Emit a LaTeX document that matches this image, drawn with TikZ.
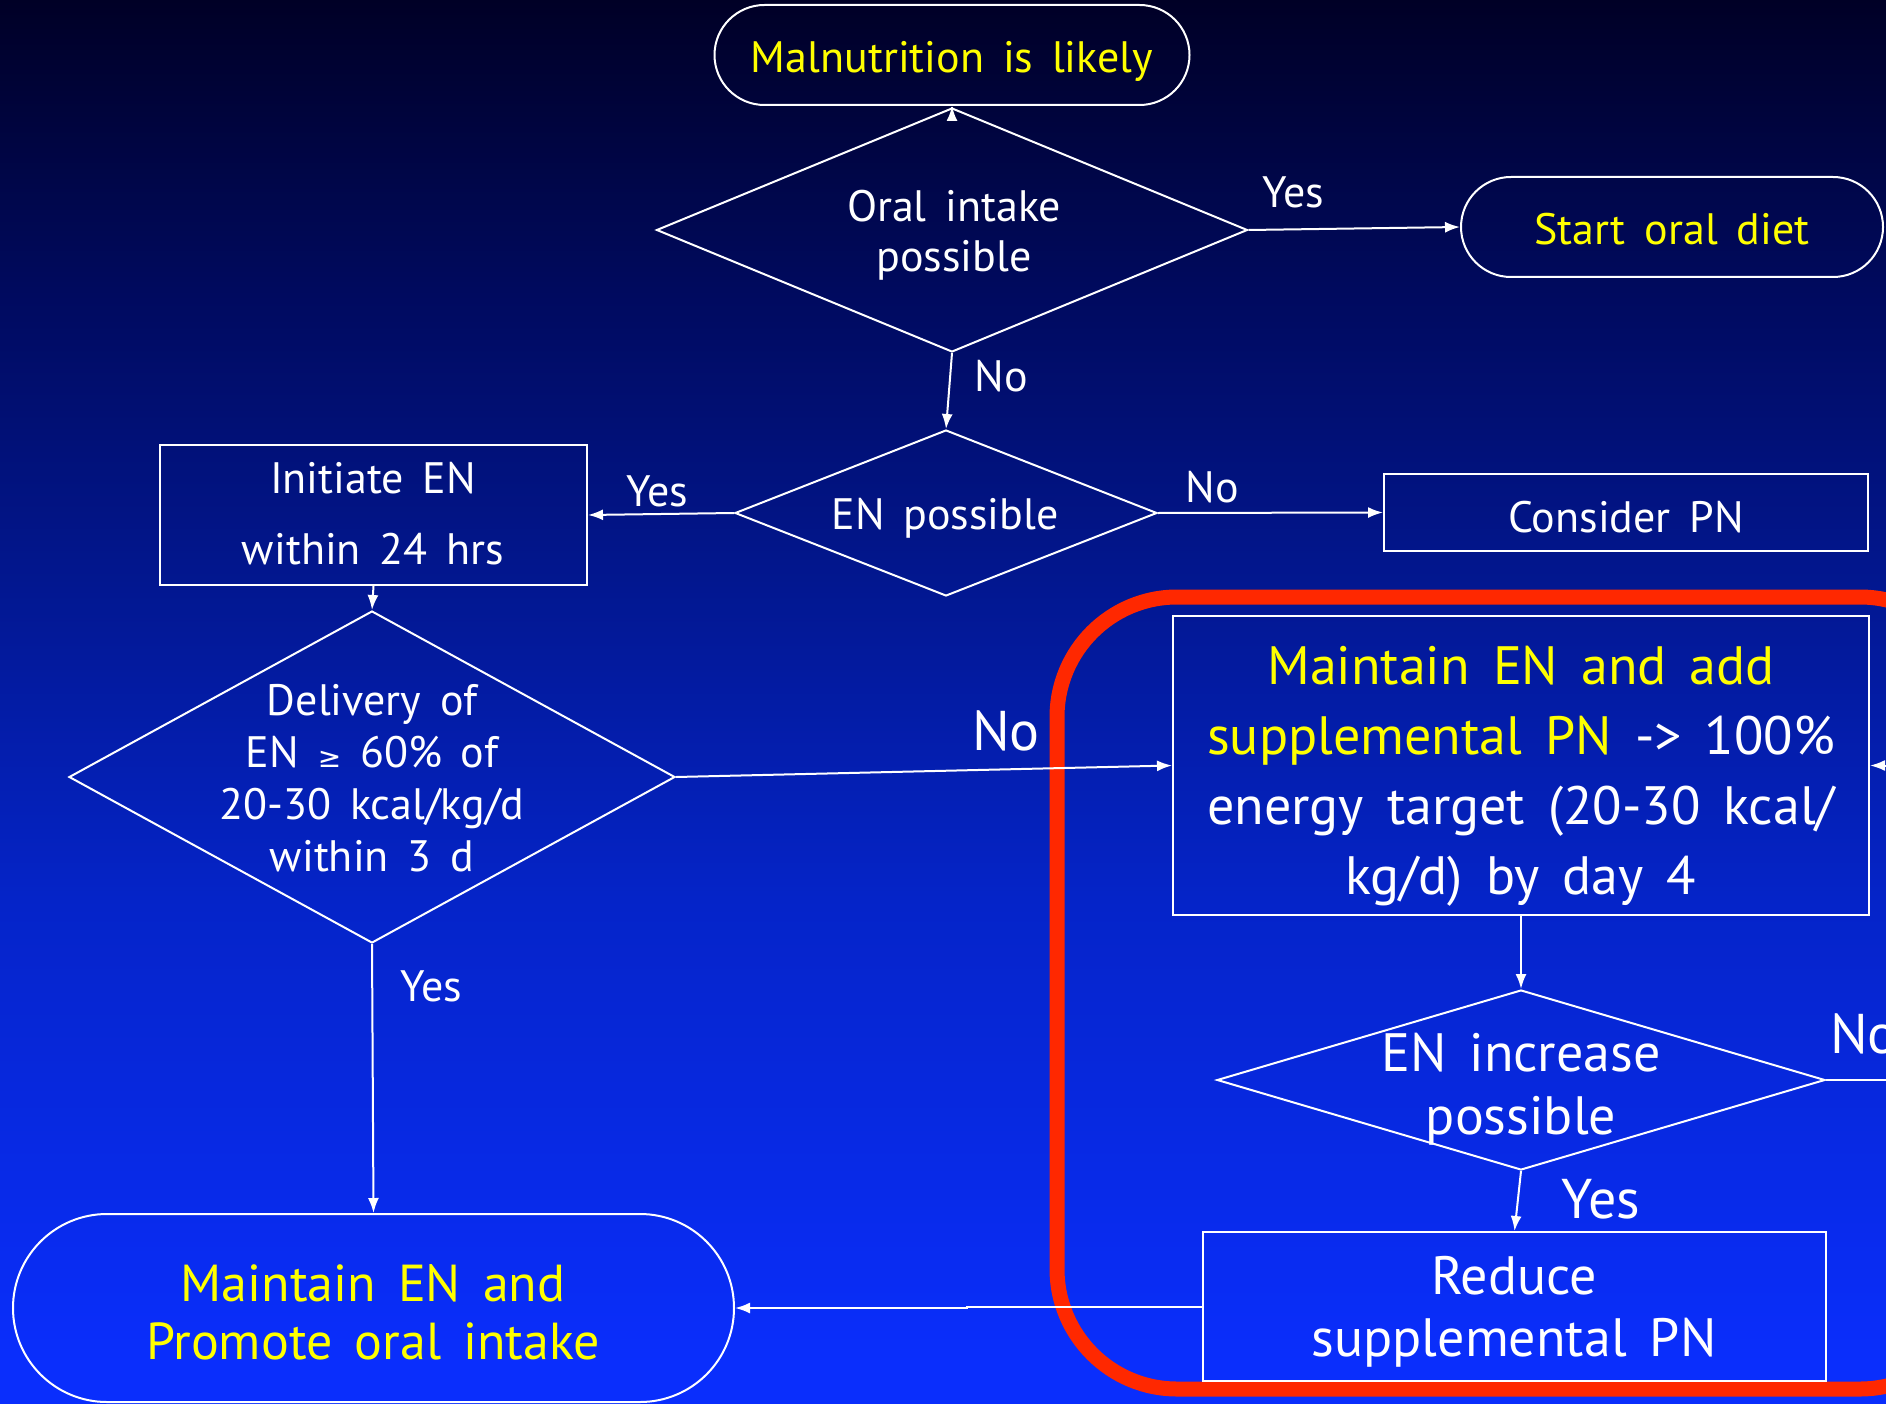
\documentclass[tikz,border=0pt]{standalone}
\usepackage{fontspec}
\setmainfont[WordSpace=1.6]{PT Sans}
\newfontfamily\symfont{DejaVu Sans}
\usetikzlibrary{shapes.geometric,arrows.meta}

% slide colours
\definecolor{bgA}{RGB}{0,0,38}
\definecolor{bgB}{RGB}{0,10,95}
\definecolor{bgC}{RGB}{2,22,140}
\definecolor{bgD}{RGB}{5,36,200}
\definecolor{bgE}{RGB}{10,46,252}
\definecolor{yel}{RGB}{255,255,0}
\definecolor{ring}{RGB}{255,40,0}

% the filled path is mapped onto the middle 25bp--75bp band of the shading
\pgfdeclareverticalshading{slidebg}{100bp}{color(0bp)=(bgE); color(26.5bp)=(bgE); color(43bp)=(bgD); color(55bp)=(bgC); color(64.5bp)=(bgB); color(75bp)=(bgA); color(100bp)=(bgA)}

\newcommand\nf{\fontsize{44}{50}\selectfont}
\newcommand\gesign{{\symfont\fontsize{28}{28}\selectfont ≥}}

\tikzset{
  wline/.style={draw=white, line width=2pt},
  arr/.style={wline, -{Latex[length=15pt,width=11pt]}},
  boxshape/.style={draw=white, line width=2pt, rectangle, inner sep=0pt},
  dia/.style={draw=white, line width=2pt, diamond, inner sep=0pt},
  txt/.style={text=white, align=center, inner sep=0pt},
  lbl/.style={text=white, inner sep=0pt, font=\fontsize{44}{44}\selectfont},
  biglbl/.style={text=white, inner sep=0pt, font=\fontsize{56}{56}\selectfont},
}

\begin{document}
\begin{tikzpicture}[x=1pt, y=-1pt]
\useasboundingbox (0,0) rectangle (1886,1404);
\shade[shading=slidebg] (0,0) rectangle (1886,1404);
\clip (0,0) rectangle (1886,1404);

% highlight ring round the supplemental-PN branch
\draw[ring, line width=15pt, rounded corners=120pt] (1057,597) rectangle (1980,1389);

% shapes
\node[boxshape, rounded corners=50pt, minimum width=475pt, minimum height=100pt] (mal) at (952,55) {};
\node[dia, minimum width=591pt, minimum height=244pt] (oral) at (952,230) {};
\node[boxshape, rounded corners=50pt, minimum width=422pt, minimum height=100pt] (start) at (1672,227) {};
\node[dia, minimum width=422pt, minimum height=166pt] (enp) at (946,513) {};
\node[boxshape, minimum width=427pt, minimum height=140pt] (init) at (373.5,515) {};
\node[boxshape, minimum width=484pt, minimum height=77pt] (cpn) at (1626,512.5) {};
\node[dia, minimum width=606pt, minimum height=332pt] (deliv) at (372,777) {};
\node[boxshape, minimum width=696pt, minimum height=299pt] (maint) at (1521,765.5) {};
\node[dia, minimum width=608pt, minimum height=180pt] (eni) at (1521,1080) {};
\node[boxshape, minimum width=623pt, minimum height=149pt] (reduce) at (1514.5,1306.5) {};
\node[boxshape, rounded corners=94pt, minimum width=721pt, minimum height=188pt] (prom) at (373.5,1308) {};

% texts
\node[txt, text=yel, font=\nf] (maltxt) at (952,61) {Malnutrition is likely};
\node[txt, font=\fontsize{44}{50}\selectfont] (oraltxt) at (954,235) {Oral intake\\possible};
\node[txt, text=yel, font=\nf] (starttxt) at (1672,229) {Start oral diet};
\node[txt, font=\nf] (enptxt) at (945,518) {EN possible};
\node[txt, font=\fontsize{44}{71}\selectfont] (inittxt) at (373,514) {Initiate EN\\within 24 hrs};
\node[txt, font=\nf] (cpntxt) at (1626,517) {Consider PN};
\node[txt, font=\fontsize{44}{52}\selectfont] (delivtxt) at (372,778) {Delivery of\\EN \gesign\ 60\% of\\20-30 kcal/kg/d\\within 3 d};
\node[txt, font=\fontsize{54}{70}\selectfont] (mainttxt) at (1521,776) {\textcolor{yel}{Maintain EN and add}\\\textcolor{yel}{supplemental PN} -> 100\%\\energy target (20-30 kcal/\\kg/d) by day 4};
\node[txt, font=\fontsize{54}{63}\selectfont] (enitxt) at (1521,1089) {EN increase\\possible};
\node[txt, font=\fontsize{54}{62}\selectfont] (reducetxt) at (1514,1312) {Reduce\\supplemental PN};
\node[txt, text=yel, font=\fontsize{52}{58}\selectfont] (promtxt) at (373,1312) {Maintain EN and\\Promote oral intake};

% connectors
\draw[arr] (oral.north) -- (mal.south);
\draw[arr] (oral.east) -- (start.west);
\draw[arr] (oral.south) -- (enp.north);
\draw[arr] (enp.west) -- (init.east);
\draw[arr] (enp.east) -- (cpn.west);
\draw[arr] (init.south) -- (deliv.north);
\draw[arr] (deliv.east) -- (maint.west);
\draw[arr] (deliv.south) -- (prom.north);
\draw[arr] (maint.south) -- (eni.north);
\draw[arr] (eni.south) -- (reduce.north);
\draw[arr] (reduce.west) -- ++(-235,0) |- (prom.east);
\draw[arr] (eni.east) -- ++(140,0) |- (maint.east);

% branch labels
\node[lbl] (yes1) at (1293,192) {Yes};
\node[lbl] (no1) at (1001,376) {No};
\node[lbl] (yes2) at (657,491) {Yes};
\node[lbl] (no2) at (1212,487) {No};
\node[biglbl] (no3) at (1006,731) {No};
\node[lbl] (yes3) at (431,986) {Yes};
\node[biglbl] (yes4) at (1601,1199) {Yes};
\node[biglbl, anchor=west] (no4) at (1830,1034) {No};
\end{tikzpicture}
\end{document}
